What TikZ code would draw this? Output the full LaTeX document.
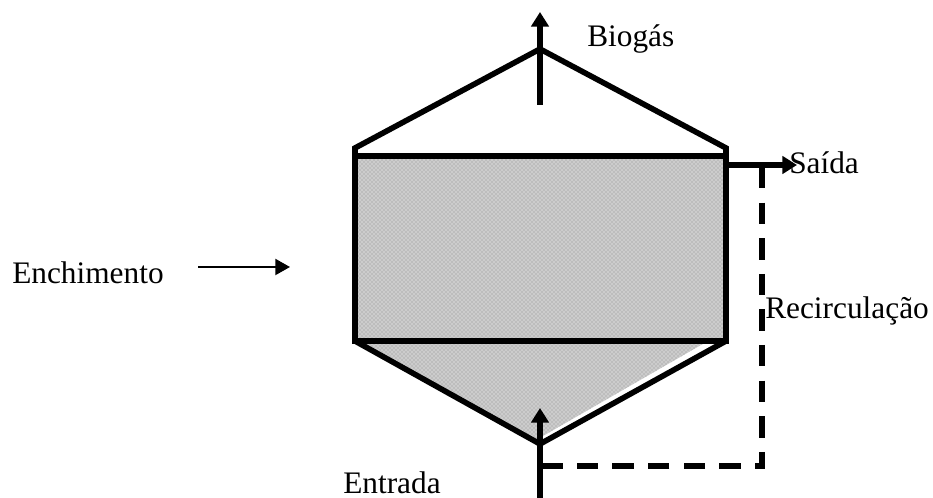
\documentclass[tikz,border=0pt]{standalone}
\usepackage{fontspec}
\setmainfont{Liberation Serif}
\usetikzlibrary{arrows.meta}
\usetikzlibrary{patterns}

\def\lw{4.2pt}
\def\lwarr{4pt}
\def\lwdash{4.4pt}
\def\lwthin{1.5pt}

\tikzset{
  wall/.style={color=black,line width=\lw,line join=miter},
  flow/.style={color=black,line width=\lwarr,-{Triangle[width=13pt,length=11pt]}},
  recirc/.style={color=black,line width=\lwdash,dash pattern=on 16pt off 10.7pt},
  packing/.style={fill=black!20,postaction={pattern=crosshatch dots,pattern color=black!45}},
  lbl/.style={font=\fontsize{23.5}{23.5}\selectfont,inner sep=0pt,anchor=base west}
}

\begin{document}
\begin{tikzpicture}[x=0.75pt,y=-0.75pt]
\useasboundingbox (0,0) rectangle (933,498);

\coordinate (top) at (540,49);
\coordinate (shl) at (355,148);
\coordinate (shr) at (726,148);
\coordinate (ul) at (355,156);
\coordinate (ur) at (726,156);
\coordinate (ll) at (355,341);
\coordinate (lr) at (726,341);
\coordinate (bot) at (540,444);
\coordinate (botfill) at (543,436);
\coordinate (lrfill) at (708,341);

\coordinate (gasin) at (540,105);
\coordinate (gasout) at (540,12);
\coordinate (feed) at (540,498);
\coordinate (feedtip) at (540,408);
\coordinate (exit) at (726,165);
\coordinate (exittip) at (797,165);
\coordinate (rectop) at (762,167);
\coordinate (reccor) at (762,466);
\coordinate (recend) at (540,466);

\node[lbl] (enchimento) at (12,284) {Enchimento};
\node[lbl] (biogas) at (587,47) {Biog\'as};
\node[lbl] (saida) at (789,174) {Sa\'ida};
\node[lbl] (recirculacao) at (765,319) {Recircula\c{c}\~ao};
\node[lbl] (entrada) at (343,494) {Entrada};
\coordinate (encha) at (198,267);
\coordinate (enchb) at (290,267);

\fill[packing] (ul) rectangle (lr);
\fill[packing] (ll)--(lrfill)--(botfill)--(bot)--cycle;

\draw[wall] (ul)--(shl)--(top)--(shr)--(ur)--cycle;
\draw[wall] (ul)--(ll)--(lr)--(ur);
\draw[wall] (ll)--(bot)--(lr);

\draw[flow] (gasin)--(gasout);
\draw[flow] (feed)--(feedtip);
\draw[flow] (exit)--(exittip);
\draw[recirc] (rectop)--(reccor)--(recend);
\draw[color=black,line width=\lwthin,-{Triangle[width=12pt,length=11pt]}] (encha)--(enchb);

\end{tikzpicture}
\end{document}
